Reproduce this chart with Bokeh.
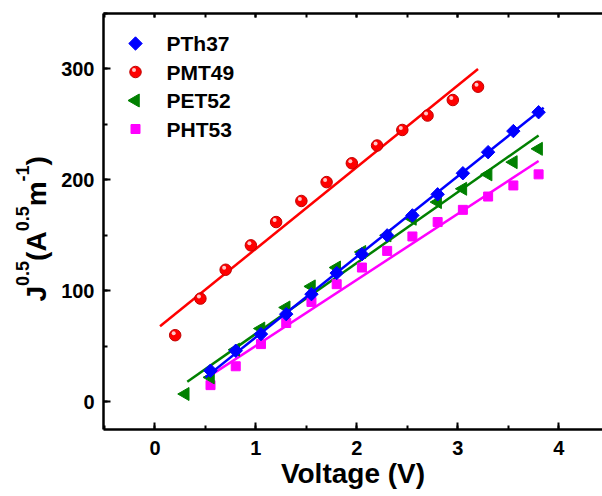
import numpy as np
from bokeh.plotting import figure
from bokeh.layouts import row
from bokeh.models import (Range1d, LinearAxis, SingleIntervalTicker, CustomJSTickFormatter)
from bokeh.core.properties import value
from bokeh.embed import file_html
from bokeh.resources import INLINE

# ---------------- data ----------------
series_names = ["PTh37", "PMT49", "PET52", "PHT53"]

x_pth37 = [0.55, 0.80, 1.05, 1.30, 1.55, 1.80, 2.05, 2.30, 2.55, 2.80, 3.05, 3.30, 3.55, 3.80]
y_pth37 = [28, 46, 61, 79, 97, 116, 133, 150, 168, 187, 206, 225, 244, 261]

x_pmt49 = [0.20, 0.45, 0.70, 0.95, 1.20, 1.45, 1.70, 1.95, 2.20, 2.45, 2.70, 2.95, 3.20]
y_pmt49 = [60, 93, 119, 141, 162, 181, 198, 215, 231, 245, 258, 272, 284]

x_pet52 = [0.30, 0.55, 0.80, 1.05, 1.30, 1.55, 1.80, 2.05, 2.30, 2.55, 2.80, 3.05, 3.30, 3.55, 3.80]
y_pet52 = [7, 22, 47, 66, 85, 104, 121, 135, 150, 165, 180, 192, 205, 216, 228]

x_pht53 = [0.55, 0.80, 1.05, 1.30, 1.55, 1.80, 2.05, 2.30, 2.55, 2.80, 3.05, 3.30, 3.55, 3.80]
y_pht53 = [15, 32, 52, 71, 90, 106, 121, 136, 149, 162, 173, 185, 195, 205]

# linear-fit lines (end points)
fit_x_pth37 = [0.50, 3.85]
fit_y_pth37 = [22, 265]
fit_x_pmt49 = [0.05, 3.20]
fit_y_pmt49 = [68, 300]
fit_x_pet52 = [0.32, 3.80]
fit_y_pet52 = [18, 240]
fit_x_pht53 = [0.52, 3.80]
fit_y_pht53 = [22, 217]

x_title = "Voltage (V)"
# y title pieces: (text, is_superscript)
y_title_parts = [("J", False), ("0.5", True), ("(A", False), ("0.5", True),
                 ("m", False), ("-1", True), (")", False)]

# ---------------- geometry / style ----------------
FONT = "Liberation Sans"
TOTAL_W, H = 602, 496
LEFT_W = 56                       # strip holding the y title
W = TOTAL_W - LEFT_W
FRAME_L, FRAME_T, FRAME_B = 103, 13, 429   # page pixels
X0, X1 = -0.51, 4.433
Y0, Y1 = -25, 350

COL = {"PTh37": "#0000FF", "PMT49": "#FF0000", "PET52": "#008000", "PHT53": "#FF00FF"}

px_per_x = (TOTAL_W - FRAME_L) / (X1 - X0)
px_per_y = (FRAME_B - FRAME_T) / (Y1 - Y0)

def px2x(px):
    return X0 + (px - FRAME_L) / px_per_x

def px2y(py):
    return Y0 + (FRAME_B - py) / px_per_y

# ---------------- main figure ----------------
p = figure(width=W, height=H, output_backend="svg", toolbar_location=None,
           x_range=Range1d(X0, X1), y_range=Range1d(Y0, Y1),
           min_border_left=FRAME_L - LEFT_W, min_border_right=0,
           min_border_top=FRAME_T, min_border_bottom=H - FRAME_B)
p.outline_line_color = None
p.grid.visible = False

def style_axis(ax, major_in, minor_in):
    ax.axis_line_width = 2.5
    ax.axis_line_color = "black"
    ax.major_tick_in = major_in
    ax.major_tick_out = 0
    ax.minor_tick_in = minor_in
    ax.minor_tick_out = 0
    ax.major_tick_line_width = 2
    ax.minor_tick_line_width = 2
    ax.major_tick_line_color = "black"
    ax.minor_tick_line_color = "black"
    ax.major_label_text_font = FONT
    ax.major_label_text_font_style = "bold"
    ax.major_label_text_color = "black"
    ax.major_label_text_font_size = "20px"

xax = p.xaxis[0]
xax.ticker = SingleIntervalTicker(interval=1, num_minor_ticks=2)
style_axis(xax, 7, 4)
xax.major_label_standoff = 11
xax.axis_label = x_title
xax.axis_label_text_font = FONT
xax.axis_label_text_font_style = "bold"
xax.axis_label_text_font_size = "28px"
xax.axis_label_text_color = "black"
xax.axis_label_standoff = 0

yax = p.yaxis[0]
yax.ticker = SingleIntervalTicker(interval=100, num_minor_ticks=2)
style_axis(yax, 7, 4)
yax.major_label_standoff = 9

top = LinearAxis(ticker=SingleIntervalTicker(interval=1, num_minor_ticks=2),
                 formatter=CustomJSTickFormatter(code="return ''"))
style_axis(top, 4, 4)
top.major_label_standoff = 0
p.add_layout(top, "above")

# ---------------- fit lines + markers ----------------
LW = 2.5
p.line(fit_x_pht53, fit_y_pht53, line_color=COL["PHT53"], line_width=LW)
p.line(fit_x_pet52, fit_y_pet52, line_color=COL["PET52"], line_width=LW)
p.line(fit_x_pmt49, fit_y_pmt49, line_color=COL["PMT49"], line_width=LW)

MK = {
    "PTh37": dict(marker="square", size=9.5, angle=np.pi / 4),
    "PMT49": dict(marker="circle", size=11.5, angle=0.0),
    "PET52": dict(marker="triangle", size=13, angle=np.pi / 2),
    "PHT53": dict(marker="square", size=9, angle=0.0),
}

def scatter(name, xs, ys):
    kw = MK[name]
    lc = "#C00000" if name == "PMT49" else COL[name]
    p.scatter(xs, ys, marker=kw["marker"], size=kw["size"], angle=kw["angle"],
              fill_color=COL[name], line_color=lc, line_width=1)
    if name == "PMT49":   # glossy highlight of the ball markers
        hx = [v - 1.5 / px_per_x for v in xs]
        hy = [v + 2.0 / px_per_y for v in ys]
        p.scatter(hx, hy, marker="circle", size=4, fill_color="#FFC8C8",
                  line_color=None)

scatter("PHT53", x_pht53, y_pht53)
scatter("PET52", x_pet52, y_pet52)
scatter("PMT49", x_pmt49, y_pmt49)
p.line(fit_x_pth37, fit_y_pth37, line_color=COL["PTh37"], line_width=LW)
scatter("PTh37", x_pth37, y_pth37)

# ---------------- legend (drawn by hand to keep marker orientation) ----------------
LEG_MARK_PX, LEG_TEXT_PX = 135, 166
LEG_ROW_PX = [43, 71.5, 100, 128.5]
for name, ry in zip(series_names, LEG_ROW_PX):
    scatter(name, [px2x(LEG_MARK_PX)], [px2y(ry)])
p.text(x=[px2x(LEG_TEXT_PX)] * 4, y=[px2y(r) for r in LEG_ROW_PX], text=series_names,
       text_font=value(FONT), text_font_style="bold", text_font_size=value("21px"),
       text_color="black", text_align="left", text_baseline="middle")

# ---------------- y title strip (its frame is aligned with the main frame) ----------------
pl = figure(width=LEFT_W, height=H, output_backend="svg", toolbar_location=None,
            x_range=Range1d(0, LEFT_W), y_range=Range1d(Y0, Y1),
            x_axis_location=None, y_axis_location=None,
            min_border=0, min_border_left=0, min_border_right=0,
            min_border_top=FRAME_T, min_border_bottom=H - FRAME_B)
pl.outline_line_color = None
pl.grid.visible = False

ADV = {"J": .556, "0": .556, ".": .278, "5": .556, "(": .333, "A": .722,
       "m": .889, "-": .333, "1": .556, ")": .333}
BIG, SUP = 28, 18
CX_BIG, CX_SUP = 36, 21.5         # page x of the rotated text centres
pos = 301.0                       # page y where the title starts
big_x, big_y, big_t, sup_x, sup_y, sup_t = [], [], [], [], [], []
for txt, sup in y_title_parts:
    size = SUP if sup else BIG
    adv = sum(ADV[c] for c in txt) * size
    cy = px2y(pos - adv / 2)
    if sup:
        sup_x.append(CX_SUP); sup_y.append(cy); sup_t.append(txt)
    else:
        big_x.append(CX_BIG); big_y.append(cy); big_t.append(txt)
    pos -= adv

pl.text(x=big_x, y=big_y, text=big_t, angle=np.pi / 2,
        text_font=value(FONT), text_font_style="bold", text_font_size=value(f"{BIG}px"),
        text_color="black", text_align="center", text_baseline="middle")
pl.text(x=sup_x, y=sup_y, text=sup_t, angle=np.pi / 2,
        text_font=value(FONT), text_font_style="bold", text_font_size=value(f"{SUP}px"),
        text_color="black", text_align="center", text_baseline="middle")

layout = row(pl, p, spacing=0)
open("out.html", "w").write(file_html(layout, INLINE))
